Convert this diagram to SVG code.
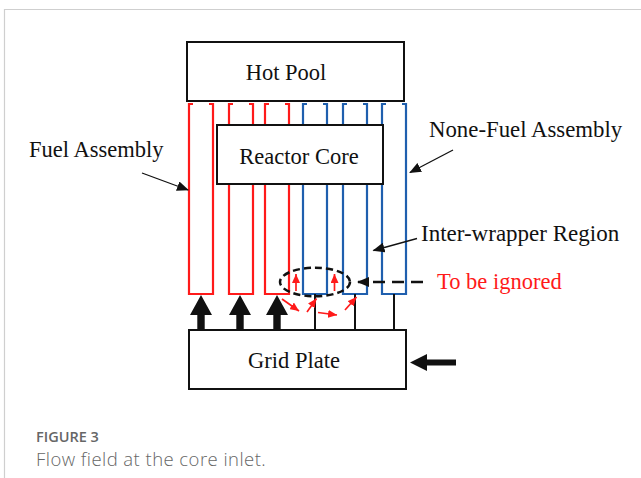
<svg xmlns="http://www.w3.org/2000/svg" width="641" height="478" viewBox="0 0 641 478">
<style>
.box{fill:#fff;stroke:#111;stroke-width:2}
.lbl{font-family:"Liberation Serif","Times New Roman",serif;font-size:22.5px;fill:#111}
.red{fill:none;stroke:#ff1a1a;stroke-width:2.2}
.blue{fill:none;stroke:#1f5fae;stroke-width:2.2}
.thin{stroke:#111;stroke-width:1.3;fill:none}
.ra{stroke:#ff1a1a;stroke-width:1.7;fill:none}
</style>
<defs>
<marker id="ah" markerUnits="userSpaceOnUse" markerWidth="12" markerHeight="10" refX="11" refY="5" orient="auto"><path d="M0,0 L12,5 L0,10 Z" fill="#111"/></marker>
<marker id="ahr" markerUnits="userSpaceOnUse" markerWidth="9" markerHeight="8" refX="9" refY="4" orient="auto"><path d="M0,0 L9,4 L0,8 Z" fill="#ff1a1a"/></marker>
</defs>
<rect width="641" height="478" fill="#fff"/>
<path d="M4.5,478 V9.5 H641" fill="none" stroke="#cfcfcf" stroke-width="1.2"/>

<g id="hot-pool"><rect class="box" x="187" y="42" width="217" height="59"/><text class="lbl" x="286" y="80" text-anchor="middle">Hot Pool</text></g>

<g id="fuel-assemblies">
<path class="red" d="M193,104 H189 V294 H213 V104 H209"/>
<path class="red" d="M233,104 H229 V294 H253 V104 H249"/>
<path class="red" d="M269,104 H265 V294 H289 V104 H285"/>
</g>
<g id="none-fuel-assemblies">
<path class="blue" d="M307,104 H303 V294 H327 V104 H323"/>
<path class="blue" d="M347,104 H343 V294 H367 V104 H363"/>
<path class="blue" d="M386,104 H382 V294 H406 V104 H402"/>
</g>

<g id="reactor-core"><rect class="box" x="217" y="125" width="166" height="59"/><text class="lbl" x="299" y="164" text-anchor="middle">Reactor Core</text></g>

<g id="grid-plate"><rect class="box" x="189" y="330" width="217" height="59"/><text class="lbl" x="294" y="368" text-anchor="middle">Grid Plate</text></g>

<g id="connectors">
<path d="M197.3,330 V315 H190 L201,295 L212,315 H204.7 V330 Z" fill="#111"/>
<path d="M236.3,330 V315 H229 L240,295 L251,315 H243.7 V330 Z" fill="#111"/>
<path d="M273.3,330 V315 H266 L277,295 L288,315 H280.7 V330 Z" fill="#111"/>
<line x1="315" y1="294" x2="315" y2="330" stroke="#111" stroke-width="2"/>
<line x1="355" y1="294" x2="355" y2="330" stroke="#111" stroke-width="2"/>
<line x1="394" y1="294" x2="394" y2="330" stroke="#111" stroke-width="2"/>
<path d="M456,359.5 H427 V354 L410,362.5 L427,371 V365.5 H456 Z" fill="#111"/>
<ellipse cx="315" cy="282" rx="35" ry="14.3" fill="none" stroke="#111" stroke-width="2.5" stroke-dasharray="7,4"/>
<line x1="423" y1="282" x2="358" y2="282" stroke="#111" stroke-width="2.5" stroke-dasharray="12,7" marker-end="url(#ah)"/>
<line class="thin" x1="142" y1="173" x2="188" y2="190" marker-end="url(#ah)"/>
<line class="thin" x1="453" y1="150" x2="410" y2="172.5" marker-end="url(#ah)"/>
<line class="thin" x1="417" y1="238.5" x2="373.5" y2="250.5" marker-end="url(#ah)"/>
<line class="ra" x1="296" y1="291" x2="296" y2="274" marker-end="url(#ahr)"/>
<line class="ra" x1="334.5" y1="291" x2="334.5" y2="274" marker-end="url(#ahr)"/>
<line class="ra" x1="282" y1="299" x2="299" y2="311" marker-end="url(#ahr)"/>
<line class="ra" x1="307" y1="312" x2="316.5" y2="298.5" marker-end="url(#ahr)"/>
<line class="ra" x1="318" y1="312.5" x2="337" y2="315" marker-end="url(#ahr)"/>
<line class="ra" x1="345" y1="310" x2="356.5" y2="297" marker-end="url(#ahr)"/>
</g>

<g id="labels">
<text class="lbl" x="29" y="157">Fuel Assembly</text>
<text class="lbl" x="429" y="136.5" style="font-size:22.8px">None-Fuel Assembly</text>
<text class="lbl" x="421" y="241" style="font-size:23px">Inter-wrapper Region</text>
<text class="lbl" x="437" y="288.5" style="fill:#ff1a1a">To be ignored</text>
</g>

<g id="caption" font-family="'Open Sans','Noto Sans',sans-serif" fill="#666">
<text x="36" y="442" font-size="14.5" font-weight="600">FIGURE 3</text>
<text x="36" y="466" font-size="18.5" font-weight="300" letter-spacing="0.45">Flow field at the core inlet.</text>
</g>
</svg>
